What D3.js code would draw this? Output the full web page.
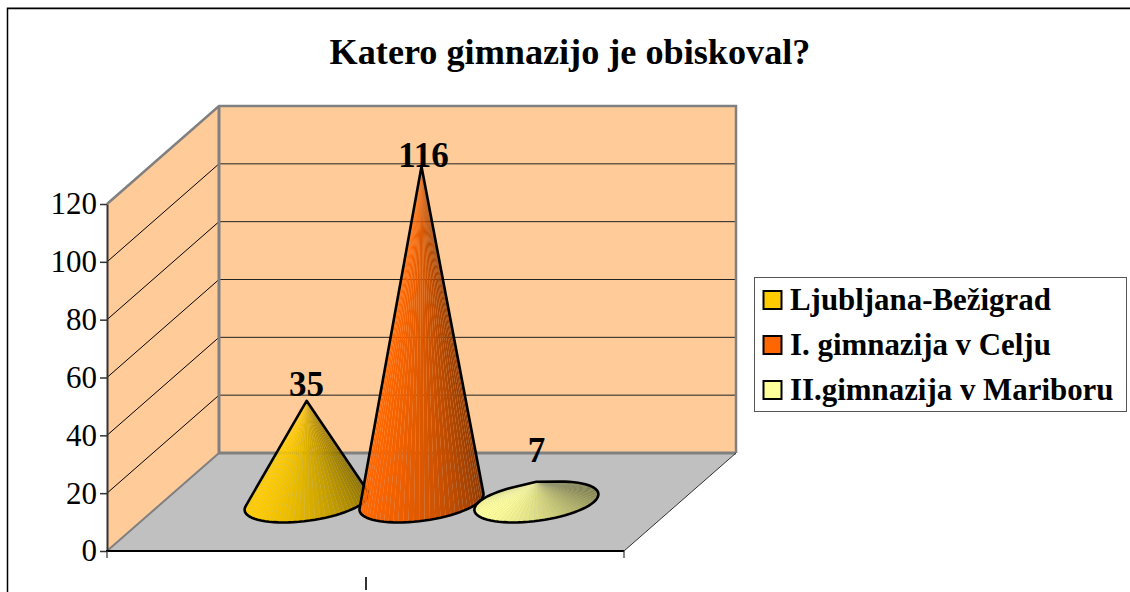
<!DOCTYPE html>
<html>
<head>
<meta charset="utf-8">
<script src="https://cdn.jsdelivr.net/npm/d3@7"></script>
<style>
html,body{margin:0;padding:0;background:#fff;overflow:hidden}
svg{display:block}
text{font-family:"Liberation Serif",serif;fill:#000}
</style>
</head>
<body>
<script>
const titleText = "Katero gimnazijo je obiskoval?";
const categories = ["Ljubljana-Bežigrad", "I. gimnazija v Celju", "II.gimnazija v Mariboru"];
const values = [35, 116, 7];
const colors = ["#FFCC00", "#FF6600", "#FFFF99"];
const yTicks = [0, 20, 40, 60, 80, 100, 120];

const W = 1130, H = 592;
const svg = d3.select("body").append("svg").attr("width", W).attr("height", H);

const plot = {left: 107, right: 624, bottom: 551, top: 204, dx: 112, dy: -98};
const y = d3.scaleLinear().domain([0, 120]).range([plot.bottom, plot.top]);
const x = d3.scaleBand().domain(categories).range([plot.left, plot.right]).paddingInner(0).paddingOuter(0.75);
const line = d3.line();

// frame
svg.append("path").attr("d", "M7,7.5H1130").attr("fill", "none").attr("stroke", "#aaa").attr("stroke-width", 1);
svg.append("path").attr("d", "M7.5,592V8.5H1130").attr("fill", "none").attr("stroke", "#000").attr("stroke-width", 1.5);

// walls and floor
const L = plot.left, R = plot.right, B = plot.bottom, T = plot.top, DX = plot.dx, DY = plot.dy;
svg.append("path").attr("d", line([[L,B],[L+DX,B+DY],[L+DX,T+DY],[L,T]]) + "Z").attr("fill", "#FFCC99");
svg.append("path").attr("d", line([[L+DX,B+DY],[R+DX,B+DY],[R+DX,T+DY],[L+DX,T+DY]]) + "Z").attr("fill", "#FFCC99");
svg.append("path").attr("d", line([[L,B],[R,B],[R+DX,B+DY],[L+DX,B+DY]]) + "Z").attr("fill", "#C0C0C0");

// gridlines
yTicks.slice(1, -1).forEach(v => {
  const yy = y(v);
  svg.append("path").attr("d", line([[L,yy],[L+DX,yy+DY]])).attr("stroke", "#000").attr("stroke-width", 1).attr("fill", "none");
  svg.append("path").attr("d", line([[L+DX,yy+DY],[R+DX,yy+DY]])).attr("stroke", "#222").attr("stroke-width", 1).attr("fill", "none");
});

// wall edges
const grey = "#808080";
svg.append("path").attr("d", line([[L,T],[L+DX,T+DY],[R+DX,T+DY],[R+DX,B+DY]])).attr("stroke", grey).attr("stroke-width", 2.5).attr("fill", "none");
svg.append("path").attr("d", line([[L+DX,T+DY],[L+DX,B+DY],[R+DX,B+DY]])).attr("stroke", grey).attr("stroke-width", 3).attr("fill", "none");
svg.append("path").attr("d", line([[L,B],[L+DX,B+DY]])).attr("stroke", grey).attr("stroke-width", 2).attr("fill", "none");
svg.append("path").attr("d", line([[R,B],[R+DX,B+DY]])).attr("stroke", "#333").attr("stroke-width", 1).attr("fill", "none");

// axes
const yAxis = d3.axisLeft(y).tickValues(yTicks).tickSize(7).tickPadding(3).tickSizeOuter(0);
const gy = svg.append("g").attr("transform", `translate(${L},0)`).call(yAxis);
gy.select(".domain").attr("stroke", "#333").attr("stroke-width", 2);
gy.selectAll(".tick line").attr("stroke", "#333").attr("stroke-width", 1.5);
gy.selectAll("text").attr("font-size", 31).attr("font-family", "Liberation Serif").attr("fill", "#222");

svg.append("path").attr("d", line([[L-1,B],[R,B]])).attr("stroke", "#000").attr("stroke-width", 2);
[L, R].forEach(px => svg.append("path").attr("d", line([[px,B],[px,B+7]])).attr("stroke", "#333").attr("stroke-width", 1.2));
svg.append("path").attr("d", line([[(L+R)/2+0.5,B+26],[(L+R)/2+0.5,B+39]])).attr("stroke", "#333").attr("stroke-width", 2);

// cones
const depthFrac = 0.5, depthR = 0.209;
function shade(col, f) { const c = d3.rgb(col); return d3.rgb(c.r*f, c.g*f, c.b*f).formatHex(); }
const labelGap = [5, 0, 20];
categories.forEach((cat, i) => {
  const cx = x(cat) + x.bandwidth()/2 + DX*depthFrac;
  const cy = B + DY*depthFrac;
  const a = x.bandwidth()/2;
  const apex = [cx, cy - (y(0) - y(values[i]))];
  const N = 72;
  const pt = k => { const t = k/N*2*Math.PI; return [cx + a*Math.cos(t) + DX*depthR*Math.sin(t), cy + DY*depthR*Math.sin(t)]; };
  const pts = d3.range(N).map(pt);
  const g = svg.append("g");
  for (let k = 0; k < N; k++) {
    const p = pt(k), q = pt(k+1);
    const area = (p[0]-apex[0])*(q[1]-apex[1]) - (p[1]-apex[1])*(q[0]-apex[0]);
    if (area >= 0) continue;
    const t = (k+.5)/N*2*Math.PI;
    const f = 0.5 + 0.5*Math.pow((1 + Math.cos(t - 220*Math.PI/180))/2, 0.75);
    g.append("path").attr("d", line([apex, p, q]) + "Z").attr("fill", shade(colors[i], f));
  }
  const hull = d3.polygonHull(pts.concat([apex]));
  g.append("path").attr("d", line(hull) + "Z").attr("fill", "none").attr("stroke", "#000").attr("stroke-width", 2.6).attr("stroke-linejoin", "round");
  svg.append("text").attr("text-anchor", "middle").attr("font-weight", "bold").attr("font-size", 35)
    .attr("x", apex[0] + (i === 1 ? 2 : 0)).attr("y", apex[1] - labelGap[i]).text(values[i]);
});

// title
svg.append("text").attr("x", 570).attr("y", 64).attr("text-anchor", "middle").attr("font-weight", "bold").attr("font-size", 36.2).text(titleText);

// legend
svg.append("rect").attr("x", 754.5).attr("y", 277.5).attr("width", 372).attr("height", 134).attr("fill", "#fff").attr("stroke", "#555").attr("stroke-width", 1);
const legY = d3.scalePoint().domain(categories).range([300, 390]);
categories.forEach((cat, i) => {
  svg.append("rect").attr("x", 763.5).attr("y", legY(cat)-9).attr("width", 18).attr("height", 18).attr("fill", colors[i]).attr("stroke", "#000").attr("stroke-width", 2);
  svg.append("text").attr("x", 790).attr("y", legY(cat)+10).attr("font-weight", "bold").attr("font-size", 30.9).text(cat);
});
</script>
</body>
</html>
